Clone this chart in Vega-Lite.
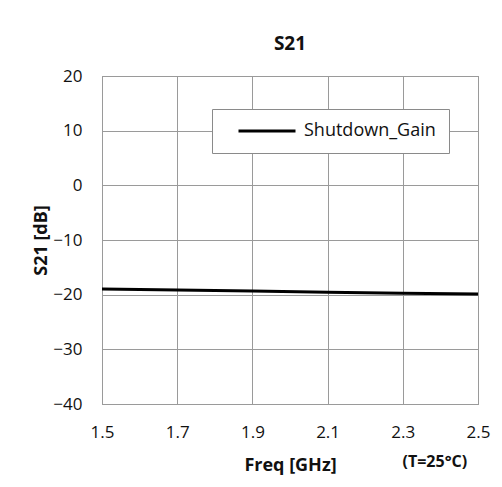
{
  "$schema": "https://vega.github.io/schema/vega-lite/v6.json",
  "width": 376,
  "height": 328,
  "autosize": "none",
  "padding": {"left": 102, "top": 76, "right": 24, "bottom": 83},
  "background": "white",
  "title": {"text": "S21", "font": "Open Sans", "fontSize": 19, "fontWeight": "bold", "color": "#111", "offset": 13},
  "config": {
    "font": "Open Sans",
    "view": {"stroke": "#808080", "strokeWidth": 1}
  },
  "data": {"values": [
    {"freq": 1.5, "s21": -18.95, "series": "Shutdown_Gain"},
    {"freq": 1.7, "s21": -19.15, "series": "Shutdown_Gain"},
    {"freq": 1.9, "s21": -19.35, "series": "Shutdown_Gain"},
    {"freq": 2.1, "s21": -19.55, "series": "Shutdown_Gain"},
    {"freq": 2.3, "s21": -19.75, "series": "Shutdown_Gain"},
    {"freq": 2.5, "s21": -19.9, "series": "Shutdown_Gain"}
  ]},
  "layer": [
    {
      "mark": {"type": "line", "strokeWidth": 3, "color": "black"},
      "encoding": {
        "x": {"field": "freq", "type": "quantitative",
          "scale": {"domain": [1.5, 2.5], "nice": false, "zero": false},
          "axis": {"title": "Freq [GHz]", "values": [1.5, 1.7, 1.9, 2.1, 2.3, 2.5], "format": ".1f",
            "grid": true, "gridColor": "#9a9a9a", "gridOpacity": 1, "domain": false, "ticks": false,
            "labelFontSize": 17, "labelColor": "#111", "labelPadding": 20, "labelFlush": false,
            "titleFontSize": 18, "titleFontWeight": "bold", "titleColor": "#111", "titlePadding": 16}},
        "y": {"field": "s21", "type": "quantitative",
          "scale": {"domain": [-40, 20], "nice": false, "zero": false},
          "axis": {"title": "S21 [dB]", "values": [-40, -30, -20, -10, 0, 10, 20],
            "grid": true, "gridColor": "#9a9a9a", "gridOpacity": 1, "domain": false, "ticks": false,
            "labelFontSize": 17, "labelColor": "#111", "labelPadding": 20,
            "titleFontSize": 18, "titleFontWeight": "bold", "titleColor": "#111", "titlePadding": 2}},
        "color": {"field": "series", "type": "nominal", "scale": {"range": ["black"]},
          "legend": {"title": null, "orient": "none", "legendX": 110, "legendY": 33,
            "symbolType": "stroke", "symbolSize": 3249, "symbolStrokeWidth": 3, "symbolOffset": 12,
            "labelFontSize": 18, "labelColor": "#111", "labelOffset": 7, "clipHeight": 18,
            "padding": 13, "strokeColor": "#8a8a8a", "fillColor": "white", "symbolStrokeColor": "black"}}
      }
    },
    {
      "data": {"values": [{"freq": 2.3, "label": "(T=25°C)"}]},
      "mark": {"type": "text", "fontSize": 16, "fontWeight": "bold", "color": "#111", "dx": 32, "dy": 0, "baseline": "middle"},
      "encoding": {
        "x": {"field": "freq", "type": "quantitative"},
        "y": {"value": 386},
        "text": {"field": "label"}
      }
    }
  ]
}
